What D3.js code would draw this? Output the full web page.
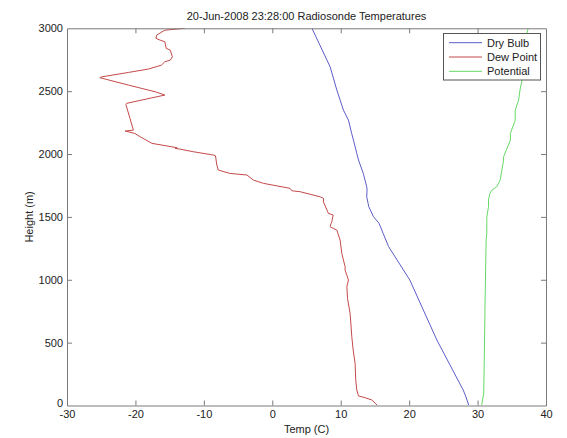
<!DOCTYPE html>
<html>
<head>
<meta charset="utf-8">
<script src="https://cdn.jsdelivr.net/npm/d3@7"></script>
<style>
  html, body { margin: 0; padding: 0; background: #fff; }
  svg { display: block; font-family: "Liberation Sans", Arial, sans-serif; }
</style>
</head>
<body>
<svg id="chart" width="567" height="438"></svg>
<script>
// ---- Data ----
const title = "20-Jun-2008 23:28:00 Radiosonde Temperatures";
const xTicks = [-30, -20, -10, 0, 10, 20, 30, 40];
const yTicks = [0, 500, 1000, 1500, 2000, 2500, 3000];
const seriesNames = ["Dry Bulb", "Dew Point", "Potential"];

const dryHeights = [4, 83, 123, 521, 998, 1263, 1369, 1449, 1501, 1581, 1608, 1660, 1713, 1740, 1846, 1952, 2005, 2111, 2164, 2270, 2349, 2509, 2694, 3000];
const dryTemps   = [28.7, 28.2, 27.9, 24.05, 20.1, 17.0, 16.2, 15.6, 14.8, 14.1, 14.0, 13.8, 13.85, 13.8, 13.3, 12.6, 12.35, 11.86, 11.6, 11.13, 10.4, 9.43, 8.45, 5.8];

const dewHeights = [4, 44, 62, 76, 123, 200, 336, 450, 547, 640, 733, 850, 945, 998, 1077, 1104, 1210, 1316, 1395, 1409, 1422, 1449, 1461, 1515, 1528, 1554, 1620, 1647, 1660, 1700, 1708, 1727, 1767, 1793, 1833, 1846, 1873, 1912, 1985, 1992, 2018, 2040, 2045, 2050, 2085, 2137, 2164, 2183, 2190, 2284, 2395, 2403, 2447, 2469, 2495, 2548, 2596, 2607, 2614, 2649, 2676, 2707, 2734, 2747, 2773, 2826, 2840, 2893, 2906, 2920, 2946, 2985, 3000];
const dewTemps   = [15.3, 14.55, 13.57, 12.6, 12.35, 12.2, 12.1, 11.8, 11.62, 11.5, 11.37, 11.0, 10.9, 11.13, 10.64, 10.64, 10.16, 9.91, 9.43, 8.9, 8.45, 8.6, 8.7, 8.9, 8.2, 8.0, 7.47, 7.5, 6.99, 4.1, 2.85, 2.6, -1.3, -2.76, -3.7, -6.2, -7.9, -8.1, -8.3, -8.6, -11.5, -13.6, -14.2, -13.9, -17.6, -19.3, -20.1, -21.5, -20.3, -20.8, -21.4, -21.3, -17.6, -15.7, -17.1, -21.0, -24.4, -25.2, -24.9, -21.0, -18.1, -16.2, -15.7, -14.9, -14.6, -14.9, -15.5, -15.7, -16.4, -17.0, -16.9, -15.7, -12.75];

const potHeights = [4, 97, 309, 839, 1316, 1369, 1475, 1501, 1581, 1634, 1687, 1713, 1740, 1793, 1952, 1978, 2111, 2164, 2270, 2349, 2429, 2509, 2588, 2959, 3000];
const potTemps   = [30.6, 30.9, 30.96, 31.1, 31.25, 31.35, 31.35, 31.35, 31.6, 31.6, 31.8, 32.1, 32.8, 33.3, 33.8, 33.8, 34.8, 34.8, 35.5, 35.5, 36.0, 36.2, 36.5, 37.2, 37.4];

// ---- Layout ----
const svg = d3.select("#chart");
const plotLeft = 67, plotRight = 546, plotTop = 28.3, plotBottom = 405.5;
const axisColor = "#7a7a7a";
const textColor = "#222";
const fmt = d => String(d);

const x = d3.scaleLinear().domain([-30, 40]).range([plotLeft, plotRight]);
const y = d3.scaleLinear().domain([0, 3000]).range([plotBottom, plotTop]);

// ---- Series ----
function pts(hs, ts) { return hs.map((h, i) => [ts[i], h]); }
const series = [
  { name: seriesNames[0], data: pts(dryHeights, dryTemps), color: "#5c5cc8" },
  { name: seriesNames[1], data: pts(dewHeights, dewTemps), color: "#c44a4a" },
  { name: seriesNames[2], data: pts(potHeights, potTemps), color: "#66d866" }
];
const line = d3.line().x(d => x(d[0])).y(d => y(d[1]));
svg.append("clipPath").attr("id", "clip").append("rect")
  .attr("x", plotLeft).attr("y", plotTop).attr("width", plotRight - plotLeft).attr("height", plotBottom - plotTop);
const g = svg.append("g").attr("clip-path", "url(#clip)");
series.forEach(s => {
  g.append("path").datum(s.data).attr("d", line)
    .attr("fill", "none").attr("stroke", s.color).attr("stroke-width", 1)
    .attr("stroke-linejoin", "round");
});

// ---- Axes (MATLAB style: box with inward ticks) ----
const tickLen = 5;
const axB = svg.append("g").attr("transform", `translate(0,${plotBottom})`)
  .call(d3.axisBottom(x).tickValues(xTicks).tickFormat(fmt).tickSizeInner(-tickLen).tickSizeOuter(0).tickPadding(5));
const axT = svg.append("g").attr("transform", `translate(0,${plotTop})`)
  .call(d3.axisTop(x).tickValues(xTicks).tickSizeInner(-tickLen).tickSizeOuter(0).tickFormat(""));
const axL = svg.append("g").attr("transform", `translate(${plotLeft},0)`)
  .call(d3.axisLeft(y).tickValues(yTicks).tickFormat(fmt).tickSizeInner(-tickLen).tickSizeOuter(0).tickPadding(4));
const axR = svg.append("g").attr("transform", `translate(${plotRight},0)`)
  .call(d3.axisRight(y).tickValues(yTicks).tickSizeInner(-tickLen).tickSizeOuter(0).tickFormat(""));

[axB, axT, axL, axR].forEach(a => {
  a.select(".domain").attr("stroke", axisColor);
  a.selectAll(".tick line").attr("stroke", axisColor);
  a.selectAll("text").attr("fill", textColor)
    .style("font-family", '"Liberation Sans", Arial, sans-serif').style("font-size", "11px");
});
[axB, axT].forEach(a => a.selectAll(".tick line").filter(d => d === -30 || d === 40).remove());
[axL, axR].forEach(a => a.selectAll(".tick line").filter(d => d === 0 || d === 3000).remove());
axB.selectAll("text").attr("dy", "0.71em");
// lift the "0" height label slightly so it clears "-30", as in the reference
axL.selectAll(".tick text").filter(d => d === 0).attr("dy", "0.1em");

// ---- Titles ----
svg.append("text").attr("x", (plotLeft + plotRight) / 2).attr("y", 20)
  .attr("text-anchor", "middle").attr("fill", textColor).style("font-size", "11px")
  .text(title);
svg.append("text").attr("x", (plotLeft + plotRight) / 2).attr("y", 433)
  .attr("text-anchor", "middle").attr("fill", textColor).style("font-size", "11px")
  .text("Temp (C)");
svg.append("text").attr("transform", `translate(33,${(plotTop + plotBottom) / 2}) rotate(-90)`)
  .attr("text-anchor", "middle").attr("fill", textColor).style("font-size", "11px")
  .text("Height (m)");

// ---- Legend ----
const lg = svg.append("g");
lg.append("rect").attr("x", 443.5).attr("y", 33.5).attr("width", 97).attr("height", 46.5)
  .attr("fill", "#fff").attr("stroke", "#555");
series.forEach((s, i) => {
  const yy = 42.7 + i * 14.3;
  lg.append("line").attr("x1", 449).attr("x2", 482).attr("y1", yy).attr("y2", yy)
    .attr("stroke", s.color).attr("stroke-width", 1);
  lg.append("text").attr("x", 487).attr("y", yy + 4).attr("fill", textColor)
    .style("font-size", "11px").text(s.name);
});
</script>
</body>
</html>
